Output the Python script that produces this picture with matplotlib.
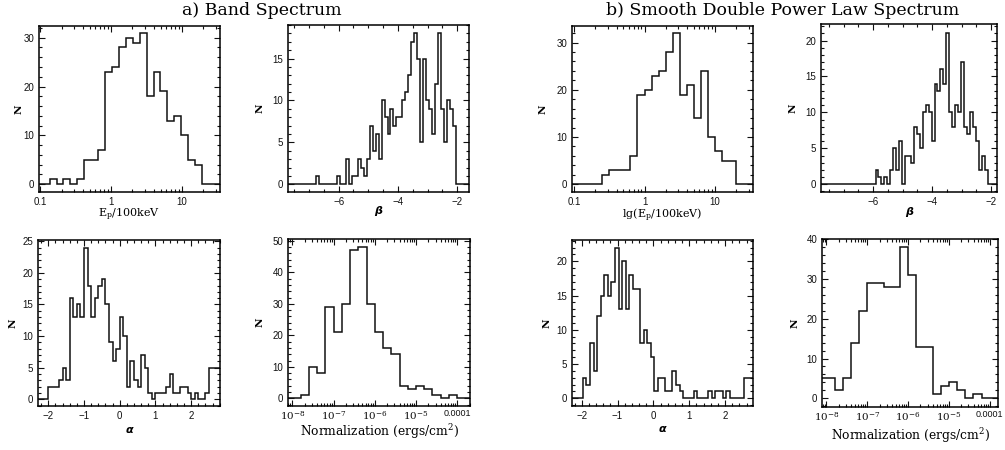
import matplotlib
matplotlib.use("Agg")
import matplotlib.pyplot as plt
import numpy as np
from matplotlib.ticker import MultipleLocator, FixedLocator, LogLocator, NullFormatter

plt.rcParams['font.family'] = ['Liberation Sans', 'DejaVu Sans']
plt.rcParams['mathtext.fontset'] = 'dejavuserif'

# histogram data: first bin edge, bin width, counts (log10 units for Ep and norm)
ep_band_lo, ep_band_w = -0.87, 0.098
ep_band_n = [1, 0, 1, 0, 1, 5, 5, 7, 23, 24, 28, 30, 29, 31, 18, 23, 19, 13, 14, 10, 5, 4]

beta_band_lo, beta_band_w = -6.75, 0.1
beta_band_n = [1, 0, 0, 0, 0, 0, 0, 1, 0, 0, 3, 0, 1, 1, 3, 2, 1, 3, 7, 4, 6, 3, 10, 8, 6,
               9, 7, 8, 8, 10, 11, 13, 17, 18, 15, 5, 15, 10, 9, 6, 12, 18, 9, 5, 10, 9, 7]

alpha_band_lo, alpha_band_w = -2.0, 0.1
alpha_band_n = [2, 2, 2, 3, 5, 3, 16, 13, 15, 13, 24, 18, 13, 16, 18, 19, 15, 9, 6, 8,
                13, 10, 2, 6, 3, 2, 7, 5, 1, 0, 1, 1, 1, 2, 4, 1, 1, 2, 2, 1, 0, 1, 0, 0,
                1, 5, 5, 5, 5]

norm_band_lo, norm_band_w = -7.8, 0.2
norm_band_n = [1, 10, 8, 29, 21, 30, 47, 48, 30, 21, 16, 14, 4, 3, 4, 3, 1, 0, 1]

ep_sd_lo, ep_sd_w = -0.6, 0.1
ep_sd_n = [2, 3, 3, 3, 6, 19, 20, 23, 24, 28, 32, 19, 21, 14, 24, 10, 7, 5, 5]

beta_sd_lo, beta_sd_w = -5.92, 0.1
beta_sd_n = [2, 1, 0, 1, 0, 2, 5, 2, 6, 0, 4, 4, 3, 8, 7, 5, 10, 11, 10, 6, 14, 13, 16,
             14, 21, 10, 8, 11, 10, 17, 8, 7, 10, 8, 6, 2, 4, 2]

alpha_sd_lo, alpha_sd_w = -1.97, 0.1
alpha_sd_n = [3, 2, 8, 4, 12, 15, 18, 15, 17, 22, 13, 20, 13, 18, 16, 16, 8, 10, 8, 6,
              1, 3, 3, 1, 1, 4, 2, 1, 0, 0, 0, 1, 0, 0, 0, 1, 0, 1, 1, 0, 1, 0, 0, 0, 0,
              3, 3, 3]

norm_sd_lo, norm_sd_w = -8.2, 0.2
norm_sd_n = [5, 5, 2, 5, 14, 22, 29, 29, 28, 28, 38, 31, 13, 13, 1, 3, 4, 2, 0, 1]

W, H = 1005, 450
fig = plt.figure(figsize=(W / 100, H / 100), dpi=100)


def make_ax(x0, x1, y0, y1):
    return fig.add_axes([x0 / W, 1 - y1 / H, (x1 - x0) / W, (y1 - y0) / H])


def draw_hist(ax, lo, width, counts, pad_lo, pad_hi, log=False):
    edges = lo + width * np.arange(len(counts) + 1)
    edges = np.concatenate([[pad_lo], edges, [pad_hi]])
    vals = np.concatenate([[0], counts, [0]])
    if log:
        edges = 10.0 ** edges
    ax.stairs(vals, edges, baseline=None, color='#111111', lw=1.1)


def style(ax, ymaj, ymin, xmaj=None, xmin=None):
    ax.tick_params(which='both', direction='in', top=True, right=True,
                   labelsize=7, width=0.8, colors='#111111')
    ax.tick_params(which='major', length=4.5, pad=3.5)
    ax.tick_params(which='minor', length=2.3)
    for s in ax.spines.values():
        s.set_linewidth(1.1)
    ax.yaxis.set_major_locator(MultipleLocator(ymaj))
    ax.yaxis.set_minor_locator(MultipleLocator(ymin))
    if xmaj is not None:
        ax.xaxis.set_major_locator(MultipleLocator(xmaj))
        ax.xaxis.set_minor_locator(MultipleLocator(xmin))


def ylab(ax, xc):
    ax.set_ylabel('N', family='DejaVu Serif', fontweight='bold', fontsize=7.5)
    ax.yaxis.set_label_coords(xc, 0.5)
    ax.yaxis.label.set_va('center')


def xlab(ax, text, yc, **kw):
    ax.set_xlabel(text, **kw)
    ax.xaxis.set_label_coords(0.5, yc)
    ax.xaxis.label.set_va('center')


def log_ep_axis(ax):
    ax.set_xscale('log')
    ax.xaxis.set_major_locator(FixedLocator([0.1, 1, 10]))
    ax.xaxis.set_minor_locator(LogLocator(subs=np.arange(2, 10)))
    ax.xaxis.set_minor_formatter(NullFormatter())
    ax.set_xticklabels(['0.1', '1', '10'])


def log_norm_axis(ax):
    ax.set_xscale('log')
    ax.xaxis.set_major_locator(FixedLocator([1e-8, 1e-7, 1e-6, 1e-5, 1e-4]))
    ax.xaxis.set_minor_locator(LogLocator(subs=np.arange(2, 10), numticks=20))
    ax.xaxis.set_minor_formatter(NullFormatter())
    ax.tick_params(axis='x', which='major', pad=2.5)
    labels = ax.set_xticklabels([r'$10^{-8}$', r'$10^{-7}$', r'$10^{-6}$', r'$10^{-5}$', '0.0001'])
    for t in labels[:4]:
        t.set_fontsize(7.5)
    labels[4].set_fontsize(6.5)


sans_it = dict(family='DejaVu Sans', style='italic', fontweight='bold', fontsize=8)
serif = dict(family='DejaVu Serif', fontsize=8)
norm_lab = 'Normalization (ergs/cm$^2$)'

# a) Band spectrum
ax1 = make_ax(39, 220, 26, 192)
draw_hist(ax1, ep_band_lo, ep_band_w, ep_band_n, -1.3, 1.8, log=True)
style(ax1, 10, 2)
log_ep_axis(ax1)
ax1.set_xlim(10 ** -1.02, 10 ** 1.54)
ax1.set_ylim(-1.6, 32.4)
ylab(ax1, -0.11)
xlab(ax1, r'E$_{\rm p}$/100keV', -0.138, **serif)

ax2 = make_ax(288, 469, 25, 192)
draw_hist(ax2, beta_band_lo, beta_band_w, beta_band_n, -8.0, -1.2)
style(ax2, 5, 1, 2, 0.5)
ax2.set_xlim(-7.71, -1.6)
ax2.set_ylim(-0.92, 19.0)
ylab(ax2, -0.155)
xlab(ax2, 'β', -0.115, **sans_it)

ax5 = make_ax(38, 220, 240, 406)
draw_hist(ax5, alpha_band_lo, alpha_band_w, alpha_band_n, -2.6, 3.0)
style(ax5, 5, 1, 1, 0.2)
ax5.set_xlim(-2.29, 2.81)
ax5.set_ylim(-1.06, 25.2)
ylab(ax5, -0.136)
xlab(ax5, 'α', -0.145, **sans_it)

ax6 = make_ax(288, 470, 239, 406)
draw_hist(ax6, norm_band_lo, norm_band_w, norm_band_n, -8.4, -3.4, log=True)
style(ax6, 10, 2)
log_norm_axis(ax6)
ax6.set_xlim(10 ** -8.105, 10 ** -3.69)
ax6.set_ylim(-2.45, 50.6)
ylab(ax6, -0.154)
xlab(ax6, norm_lab, -0.155, family='DejaVu Serif', fontsize=8.8)

# b) Smooth double power law spectrum
ax3 = make_ax(572, 753, 26, 192)
draw_hist(ax3, ep_sd_lo, ep_sd_w, ep_sd_n, -1.3, 1.8, log=True)
style(ax3, 10, 2)
log_ep_axis(ax3)
ax3.set_xlim(10 ** -1.03, 10 ** 1.54)
ax3.set_ylim(-1.63, 33.5)
ylab(ax3, -0.16)
xlab(ax3, r'lg(E$_{\rm p}$/100keV)', -0.138, **serif)

ax4 = make_ax(821, 997, 24, 192)
draw_hist(ax4, beta_sd_lo, beta_sd_w, beta_sd_n, -8.0, -1.5)
style(ax4, 5, 1, 2, 0.5)
ax4.set_xlim(-7.77, -1.8)
ax4.set_ylim(-1.07, 22.3)
ylab(ax4, -0.159)
xlab(ax4, 'β', -0.118, **sans_it)

ax7 = make_ax(572, 753, 240, 406)
draw_hist(ax7, alpha_sd_lo, alpha_sd_w, alpha_sd_n, -2.6, 3.0)
style(ax7, 5, 1, 1, 0.2)
ax7.set_xlim(-2.27, 2.78)
ax7.set_ylim(-1.12, 23.1)
ylab(ax7, -0.14)
xlab(ax7, 'α', -0.141, **sans_it)

ax8 = make_ax(822, 998, 239, 407)
draw_hist(ax8, norm_sd_lo, norm_sd_w, norm_sd_n, -8.4, -3.4, log=True)
style(ax8, 10, 2)
log_norm_axis(ax8)
ax8.set_xlim(10 ** -8.11, 10 ** -3.8)
ax8.set_ylim(-2.2, 40.1)
ylab(ax8, -0.153)
xlab(ax8, norm_lab, -0.172, family='DejaVu Serif', fontsize=8.8)

fig.text(262 / W, 1 - 15 / H, 'a) Band Spectrum', family='DejaVu Serif',
         fontsize=12.5, ha='center', va='baseline')
fig.text(783 / W, 1 - 15 / H, 'b) Smooth Double Power Law Spectrum', family='DejaVu Serif',
         fontsize=12.5, ha='center', va='baseline')

fig.savefig('out.png', dpi=100)
